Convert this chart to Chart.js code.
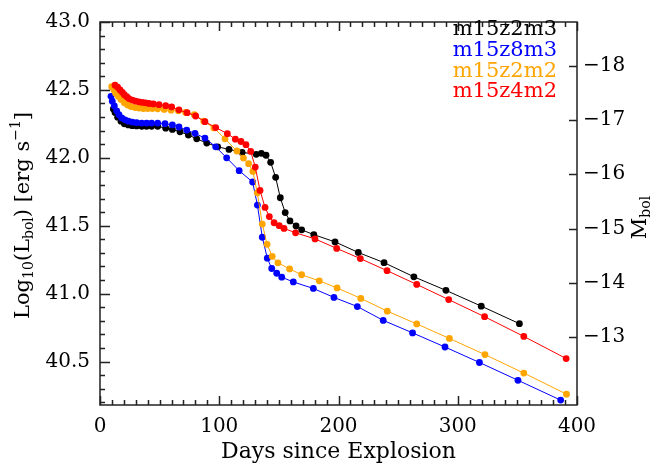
<!DOCTYPE html>
<html>
<head>
<meta charset="utf-8">
<script src="https://cdn.jsdelivr.net/npm/chart.js@4.4.1/dist/chart.umd.min.js"></script>
<style>
  html, body { margin: 0; padding: 0; background: #fff; }
  #chart-lc { display: block; }
</style>
</head>
<body>
<canvas id="chart-lc" width="652" height="466"></canvas>
<script>
// light curves: days since explosion, log10 L_bol
const daysZ2M3 = [11.2, 12.6, 14.8, 17.6, 20.4, 23.8, 27.1, 30.7, 35.0, 39.0, 43.3, 48.4, 55.1, 60.7, 67.1, 74.1, 81.1, 89.5, 98.7, 108.2,
  119.2, 131.0, 135.3, 139.2, 143.1, 147.3, 151.2, 155.3, 159.3, 164.4, 169.1, 179.3, 197.1, 216.6, 238.2, 263.2, 290.1, 319.7, 351.7]
const lumZ2M3 = [42.36, 42.334, 42.299, 42.27, 42.251, 42.242, 42.237, 42.235, 42.232, 42.232, 42.232, 42.232, 42.218, 42.209, 42.192, 42.168, 42.14, 42.109, 42.081, 42.062,
  42.04, 42.026, 42.033, 42.019, 41.967, 41.856, 41.706, 41.597, 41.535, 41.498, 41.47, 41.434, 41.381, 41.303, 41.228, 41.124, 41.024, 40.908, 40.779]

const daysZ8M3 = [9.2, 10.3, 12.0, 14.0, 15.9, 18.2, 21.0, 23.8, 27.1, 30.7, 35.0, 39.1, 43.3, 48.4, 54.5, 60.7, 66.2, 72.7, 79.7, 88.0,
  97.0, 106.2, 116.7, 128.0, 132.0, 136.1, 140.3, 144.0, 148.2, 152.4, 162.1, 178.9, 196.2, 215.8, 237.5, 262.1, 289.3, 318.2, 350.5, 386.3]
const lumZ8M3 = [42.453, 42.417, 42.382, 42.346, 42.318, 42.294, 42.28, 42.27, 42.263, 42.259, 42.256, 42.256, 42.256, 42.256, 42.251, 42.242, 42.227, 42.204, 42.18, 42.145,
  42.081, 42.0, 41.905, 41.822, 41.652, 41.415, 41.261, 41.185, 41.15, 41.121, 41.086, 41.038, 40.972, 40.905, 40.803, 40.711, 40.607, 40.493, 40.362, 40.216]

const daysZ2M2 = [9.8, 11.7, 13.1, 15.3, 17.6, 20.4, 23.2, 26.0, 29.4, 32.7, 36.3, 40.0, 43.9, 48.4, 53.9, 59.6, 65.7, 71.8, 79.1, 87.0,
  95.5, 104.8, 114.8, 120.3, 124.6, 128.2, 131.9, 136.1, 140.1, 144.4, 149.2, 159.0, 169.1, 183.9, 198.8, 218.7, 240.9, 265.6, 293.0, 322.8, 355.4, 391.2]
const lumZ2M2 = [42.524, 42.50, 42.476, 42.453, 42.429, 42.405, 42.389, 42.377, 42.37, 42.366, 42.363, 42.363, 42.363, 42.361, 42.356, 42.351, 42.346, 42.334, 42.318, 42.27,
  42.22, 42.14, 42.05, 41.998, 41.957, 41.90, 41.742, 41.512, 41.363, 41.275, 41.227, 41.182, 41.139, 41.094, 41.042, 40.965, 40.871, 40.777, 40.67, 40.551, 40.415, 40.26]

const daysZ4M2 = [12.6, 14.8, 16.8, 18.7, 20.4, 22.4, 24.3, 27.1, 29.9, 32.7, 35.5, 38.3, 41.1, 44.7, 49.5, 55.1, 60.1, 66.2, 73.0, 80.2,
  88.0, 97.0, 106.8, 113.5, 118.2, 122.4, 126.4, 130.2, 134.2, 138.4, 142.0, 146.0, 150.3, 154.3, 164.0, 180.3, 198.5, 218.3, 240.7, 265.6, 292.4, 322.5, 355.4, 390.9]
const lumZ4M2 = [42.535, 42.52, 42.50, 42.482, 42.465, 42.45, 42.436, 42.425, 42.417, 42.412, 42.408, 42.405, 42.40, 42.397, 42.391, 42.384, 42.375, 42.353, 42.332, 42.308,
  42.266, 42.223, 42.178, 42.137, 42.12, 42.097, 42.047, 41.932, 41.76, 41.635, 41.567, 41.522, 41.50, 41.48, 41.448, 41.403, 41.333, 41.258, 41.169, 41.068, 40.956, 40.83, 40.685, 40.522]

const seriesNames = ['m15z2m3', 'm15z8m3', 'm15z2m2', 'm15z4m2']
const seriesColors = ['#000000', '#0000ff', '#ffa500', '#ff0000']

const dayTicks = [0, 100, 200, 300, 400]
const lumTicks = [40.5, 41.0, 41.5, 42.0, 42.5, 43.0]
const magTicks = [-18, -17, -16, -15, -14, -13]

const DAY_MIN = 0, DAY_MAX = 400
const LUM_MIN = 40.18, LUM_MAX = 43.0
const LUM_AT_M18 = 42.679   // Mbol = 4.74 - 2.5 log(L / Lsun)

function lumToMag(l) {
    return -18 - 2.5 * (l - LUM_AT_M18)
}

const FONT = "'DejaVu Serif', 'Liberation Serif', serif"

function toPoints(days, lum) {
    return days.map((d, i) => ({ x: d, y: lum[i] }))
}

// draws text pieces (sub/superscripts) centered on 0,0 of the current transform
function drawPieces(ctx, pieces) {
    let total = 0
    pieces.forEach(p => {
        ctx.font = p.size + 'px ' + FONT
        p.w = ctx.measureText(p.t).width
        total += p.w
    })
    let x = -total / 2
    pieces.forEach(p => {
        ctx.font = p.size + 'px ' + FONT
        ctx.fillText(p.t, x, p.dy)
        x += p.w
    })
}

const framePlugin = {
    id: 'frame',
    afterDatasetsDraw(chart) {
        const { ctx, chartArea: a, scales } = chart
        ctx.save()
        ctx.strokeStyle = '#222'
        ctx.lineWidth = 1.5
        ctx.beginPath()
        for (let d = DAY_MIN; d <= DAY_MAX; d += 10) {
            const px = Math.round(scales.x.getPixelForValue(d)) + 0.5
            const len = d % 100 === 0 ? 9 : 5
            ctx.moveTo(px, a.bottom); ctx.lineTo(px, a.bottom - len)
            ctx.moveTo(px, a.top); ctx.lineTo(px, a.top + len)
        }
        for (let k = Math.ceil(LUM_MIN * 10); k <= LUM_MAX * 10; k++) {
            const py = Math.round(scales.y.getPixelForValue(k / 10)) + 0.5
            const len = k % 5 === 0 ? 10 : 5
            ctx.moveTo(a.left, py); ctx.lineTo(a.left + len, py)
        }
        magTicks.forEach(m => {
            const py = Math.round(scales.y2.getPixelForValue(m)) + 0.5
            ctx.moveTo(a.right, py); ctx.lineTo(a.right - 8, py)
        })
        ctx.stroke()
        ctx.strokeRect(a.left, a.top, a.right - a.left, a.bottom - a.top)
        ctx.restore()
    },
    afterDraw(chart) {
        const { ctx, chartArea: a } = chart
        ctx.save()
        ctx.fillStyle = '#000'
        ctx.textBaseline = 'middle'

        // legend, right aligned in the upper right corner
        ctx.textAlign = 'right'
        ctx.font = '21px ' + FONT
        chart.data.datasets.forEach((ds, i) => {
            ctx.fillStyle = ds.borderColor
            ctx.fillText(ds.label, 557, 30 + i * 20.6)
        })

        ctx.fillStyle = '#000'
        ctx.textAlign = 'center'
        ctx.font = '22px ' + FONT
        ctx.fillText('Days since Explosion', (a.left + a.right) / 2, 452)

        ctx.textAlign = 'left'
        ctx.save()
        ctx.translate(24, (a.top + a.bottom) / 2 + 2)
        ctx.rotate(-Math.PI / 2)
        drawPieces(ctx, [
            { t: 'Log', size: 21, dy: 0 },
            { t: '10', size: 14, dy: 5 },
            { t: '(L', size: 21, dy: 0 },
            { t: 'bol', size: 14, dy: 5 },
            { t: ') [erg s', size: 21, dy: 0 },
            { t: '\u22121', size: 14, dy: -8 },
            { t: ']', size: 21, dy: 0 },
        ])
        ctx.restore()

        ctx.save()
        ctx.translate(641, (a.top + a.bottom) / 2 + 4)
        ctx.rotate(-Math.PI / 2)
        drawPieces(ctx, [
            { t: 'M', size: 21, dy: 0 },
            { t: 'bol', size: 14, dy: 5 },
        ])
        ctx.restore()

        ctx.restore()
    }
}

function setLightCurveChart() {
    const ctx = document.getElementById('chart-lc')

    const curves = [
        toPoints(daysZ2M3, lumZ2M3),
        toPoints(daysZ8M3, lumZ8M3),
        toPoints(daysZ2M2, lumZ2M2),
        toPoints(daysZ4M2, lumZ4M2),
    ]

    const data = {
        datasets: curves.map((pts, i) => ({
            label: seriesNames[i],
            data: pts,
            borderColor: seriesColors[i],
            backgroundColor: seriesColors[i],
            borderWidth: 1,
            pointRadius: 3.4,
            pointBorderWidth: 0,
            pointBackgroundColor: seriesColors[i],
            tension: 0,
            order: seriesNames.length - i,
        })),
    }

    const tickFont = { family: FONT, size: 20 }

    const config = {
        type: 'line',
        data: data,
        options: {
            responsive: false,
            animation: false,
            layout: { padding: { top: 8, left: 0, right: 0, bottom: 0 } },
            plugins: {
                legend: { display: false },
                tooltip: { enabled: false },
            },
            scales: {
                x: {
                    type: 'linear',
                    position: 'bottom',
                    min: DAY_MIN,
                    max: DAY_MAX,
                    grid: { display: false, drawTicks: false },
                    border: { display: false },
                    afterBuildTicks: s => { s.ticks = dayTicks.map(v => ({ value: v })) },
                    afterFit: s => { s.height = 61 },
                    ticks: {
                        font: tickFont,
                        color: '#000',
                        padding: 10,
                        maxRotation: 0,
                        autoSkip: false,
                        callback: v => String(v),
                    },
                },
                y: {
                    type: 'linear',
                    position: 'left',
                    min: LUM_MIN,
                    max: LUM_MAX,
                    grid: { display: false, drawTicks: false },
                    border: { display: false },
                    afterBuildTicks: s => { s.ticks = lumTicks.map(v => ({ value: v })) },
                    afterFit: s => { s.width = 100 },
                    ticks: {
                        font: tickFont,
                        color: '#000',
                        padding: 10,
                        autoSkip: false,
                        callback: v => v.toFixed(1),
                    },
                },
                y2: {
                    type: 'linear',
                    position: 'right',
                    reverse: true,
                    min: lumToMag(LUM_MAX),
                    max: lumToMag(LUM_MIN),
                    grid: { display: false, drawTicks: false },
                    border: { display: false },
                    afterBuildTicks: s => { s.ticks = magTicks.map(v => ({ value: v })) },
                    afterFit: s => { s.width = 75 },
                    ticks: {
                        font: tickFont,
                        color: '#000',
                        padding: 6,
                        autoSkip: false,
                        callback: v => '\u2212' + Math.abs(v),
                    },
                },
            },
        },
        plugins: [framePlugin],
    }

    new Chart(ctx, config)
}

setLightCurveChart()
</script>
</body>
</html>
